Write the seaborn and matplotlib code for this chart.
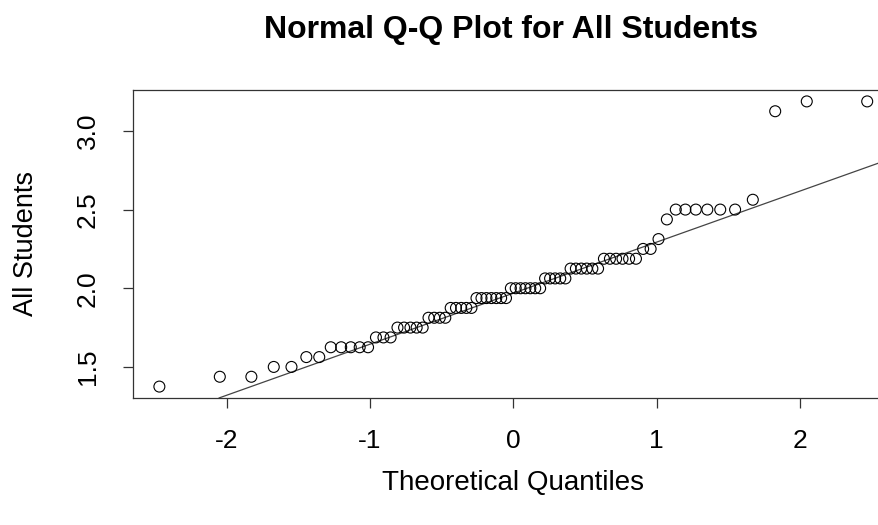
import numpy as np
import pandas as pd
import seaborn as sns
import matplotlib.pyplot as plt
from statistics import NormalDist

# sorted sample values (GPA steps of 1/16) and how often each occurs
gpa_levels = [1.375, 1.4375, 1.5, 1.5625, 1.625, 1.6875, 1.75, 1.8125, 1.875, 1.9375,
              2.0, 2.0625, 2.125, 2.1875, 2.25, 2.3125, 2.4375, 2.5, 2.5625, 3.125, 3.1875]
gpa_counts = [1, 2, 2, 2, 5, 3, 5, 4, 5, 7,
              7, 5, 6, 6, 2, 1, 1, 6, 1, 1, 2]
x_ticks = [-2, -1, 0, 1, 2]
y_ticks = [1.5, 2.0, 2.5, 3.0]

students = np.repeat(gpa_levels, gpa_counts)
n = len(students)
# R's ppoints() for n > 10
probs = (np.arange(1, n + 1) - 0.5) / n
theo = np.array([NormalDist().inv_cdf(p) for p in probs])
df = pd.DataFrame({"theo": theo, "val": np.sort(students)})

# qqline through the 1st and 3rd quartiles
yq = np.percentile(students, [25, 75])
xq = np.array([NormalDist().inv_cdf(0.25), NormalDist().inv_cdf(0.75)])
slope = (yq[1] - yq[0]) / (xq[1] - xq[0])
intercept = yq[0] - slope * xq[0]

sns.set_style("white")
plt.rcParams['font.family'] = ['Liberation Sans', 'DejaVu Sans']
plt.rcParams['text.color'] = 'black'
plt.rcParams['axes.labelcolor'] = 'black'
plt.rcParams['xtick.color'] = 'black'
plt.rcParams['ytick.color'] = 'black'

fig = plt.figure(figsize=(8.79, 5.25), dpi=100)
ax = fig.add_axes([133 / 879, 1 - 398 / 525, 760 / 879, 308 / 525])

sns.scatterplot(data=df, x="theo", y="val", ax=ax, marker="o", s=62,
                facecolor="none", edgecolor="black", linewidth=0.8, zorder=3)
ax.axline((0, intercept), slope=slope, color="#444444", linewidth=0.9, zorder=2)

ax.set_xlim(-2.654, 2.65)
ax.set_ylim(1.3025, 3.26)
ax.set_xticks(x_ticks)
ax.set_xticklabels([str(t) for t in x_ticks])
ax.set_yticks(y_ticks)
ax.set_yticklabels([f"{t:.1f}" for t in y_ticks], rotation=90, va="center")
ax.tick_params(axis="both", direction="out", length=7, width=0.9, color="#333333",
               labelsize=19, bottom=True, left=True)
ax.tick_params(axis="x", pad=15)
ax.tick_params(axis="y", pad=17)
for s in ax.spines.values():
    s.set_color("#333333")
    s.set_linewidth(0.9)

ax.set_xlabel("Theoretical Quantiles", fontsize=20, va="center")
ax.xaxis.set_label_coords(0.5, (398 - 483) / 308)
ax.set_ylabel("All Students", fontsize=19.5, va="center")
ax.yaxis.set_label_coords((26 - 133) / 760, 0.5)
fig.text(511 / 879, 1 - 30 / 525, "Normal Q-Q Plot for All Students",
         ha="center", va="center", fontsize=23, fontweight="bold")

fig.savefig("out.png", dpi=100)
